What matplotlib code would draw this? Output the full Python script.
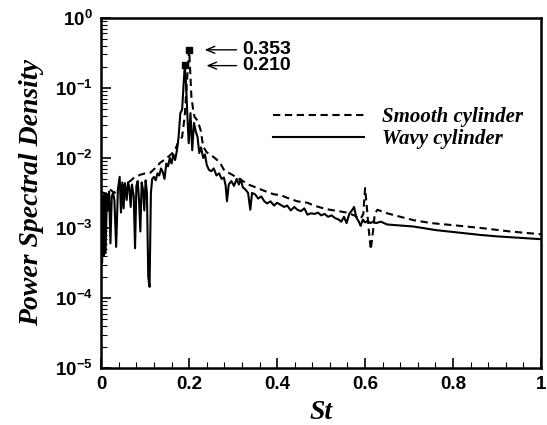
import numpy as np
import matplotlib
matplotlib.use('Agg')
import matplotlib.pyplot as plt
from matplotlib.ticker import MultipleLocator, LogLocator, FuncFormatter, NullFormatter

# ==================== data (log10 of PSD) ====================
smooth_st = [0.000, 0.010, 0.020, 0.030, 0.040, 0.050, 0.058, 0.066, 0.075, 0.089,
             0.100, 0.112, 0.122, 0.134, 0.145, 0.157, 0.167, 0.175, 0.184, 0.190,
             0.195, 0.200, 0.203, 0.205, 0.209, 0.212, 0.218, 0.222, 0.226, 0.232,
             0.240, 0.250, 0.262, 0.271, 0.280, 0.295, 0.317, 0.335, 0.355, 0.375,
             0.393, 0.408, 0.423, 0.446, 0.469, 0.484, 0.500, 0.520, 0.540, 0.558,
             0.575, 0.590, 0.596, 0.600, 0.604, 0.608, 0.613, 0.618, 0.622, 0.628,
             0.650, 0.680, 0.711, 0.750, 0.800, 0.863, 0.930, 1.000]
smooth_log = [-2.48, -2.52, -2.45, -2.50, -2.42, -2.40, -2.36, -2.33, -2.28, -2.24,
              -2.22, -2.21, -2.15, -2.07, -2.02, -1.96, -1.90, -1.78, -1.70, -1.40,
              -0.90, -0.452, -0.84, -1.12, -1.31, -1.41, -1.46, -1.52, -1.60, -1.84,
              -1.92, -1.96, -2.02, -2.08, -2.18, -2.23, -2.31, -2.38, -2.43, -2.48,
              -2.52, -2.53, -2.57, -2.62, -2.64, -2.68, -2.71, -2.74, -2.76, -2.78,
              -2.82, -2.87, -2.80, -2.43, -2.70, -3.00, -3.31, -3.05, -2.80, -2.74,
              -2.79, -2.84, -2.89, -2.93, -2.96, -3.00, -3.05, -3.09]

wavy_st = [0.000, 0.002, 0.004, 0.006, 0.008, 0.010, 0.013, 0.016, 0.018, 0.021,
           0.024, 0.027, 0.030, 0.034, 0.038, 0.042, 0.045, 0.048, 0.051, 0.054,
           0.058, 0.061, 0.064, 0.067, 0.070, 0.074, 0.077, 0.080, 0.083, 0.086,
           0.089, 0.092, 0.095, 0.098, 0.101, 0.104, 0.107, 0.110, 0.113, 0.116,
           0.120, 0.124, 0.128, 0.132, 0.136, 0.140, 0.144, 0.148, 0.152, 0.156,
           0.160, 0.164, 0.168, 0.172, 0.176, 0.180, 0.184, 0.187, 0.190, 0.193,
           0.196, 0.199, 0.203, 0.207, 0.211, 0.215, 0.219, 0.223, 0.227, 0.232,
           0.236, 0.240, 0.245, 0.250, 0.256, 0.262, 0.268, 0.274, 0.279, 0.283,
           0.286, 0.290, 0.296, 0.302, 0.308, 0.313, 0.317, 0.322, 0.328, 0.334,
           0.339, 0.343, 0.350, 0.357, 0.364, 0.371, 0.377, 0.385, 0.393, 0.400,
           0.408, 0.416, 0.423, 0.431, 0.439, 0.446, 0.454, 0.462, 0.469, 0.477,
           0.485, 0.493, 0.500, 0.508, 0.516, 0.524, 0.532, 0.540, 0.546, 0.552,
           0.558, 0.564, 0.570, 0.575, 0.580, 0.585, 0.590, 0.595, 0.600, 0.606,
           0.612, 0.618, 0.625, 0.636, 0.650, 0.670, 0.690, 0.711, 0.730, 0.760,
           0.790, 0.820, 0.863, 0.900, 0.950, 1.000]
wavy_log = [-2.50, -3.50, -2.55, -3.40, -2.50, -3.36, -2.52, -2.75, -2.48, -3.22,
            -2.55, -2.50, -2.60, -3.27, -2.45, -2.27, -2.78, -2.35, -2.72, -2.36,
            -2.60, -2.35, -2.42, -2.70, -2.38, -2.55, -3.29, -2.40, -2.33, -2.60,
            -3.05, -2.35, -2.45, -2.75, -2.32, -2.50, -3.70, -3.84, -2.50, -2.30,
            -2.27, -2.32, -2.22, -2.25, -2.15, -2.20, -2.30, -2.08, -2.12, -2.00,
            -2.08, -1.95, -2.03, -1.90, -1.70, -1.36, -1.31, -1.00, -0.68, -0.95,
            -1.40, -1.79, -1.36, -1.89, -1.50, -1.62, -1.70, -1.93, -1.85, -2.00,
            -1.95, -2.10, -2.17, -2.19, -2.15, -2.25, -2.22, -2.30, -2.28, -2.40,
            -2.62, -2.38, -2.33, -2.40, -2.30, -2.38, -2.30, -2.42, -2.45, -2.50,
            -2.74, -2.50, -2.52, -2.58, -2.55, -2.62, -2.65, -2.62, -2.68, -2.64,
            -2.67, -2.70, -2.68, -2.75, -2.70, -2.74, -2.76, -2.72, -2.81, -2.79,
            -2.80, -2.78, -2.82, -2.80, -2.84, -2.82, -2.86, -2.88, -2.91, -2.84,
            -2.93, -2.80, -2.75, -2.70, -2.85, -2.90, -2.97, -2.88, -2.92, -2.90,
            -2.93, -2.91, -2.93, -2.91, -2.95, -2.96, -2.97, -2.98, -3.00, -3.03,
            -3.05, -3.07, -3.10, -3.12, -3.14, -3.16]

peak_st = [0.200, 0.190]
peak_psd = [0.353, 0.210]
peak_text = ['0.353', '0.210']

# ==================== plot ====================
plt.rcParams['mathtext.fontset'] = 'custom'
plt.rcParams['mathtext.rm'] = 'Liberation Sans:bold'
plt.rcParams['mathtext.bf'] = 'Liberation Sans:bold'


def st_label(v, pos):
    if abs(v) < 1e-9:
        return '0'
    if abs(v - 1) < 1e-9:
        return '1'
    return f'{v:.1f}'


fig = plt.figure(figsize=(5.47, 4.25), dpi=100)
ax = fig.add_axes([0.185, 0.134, 0.804, 0.824])

ax.plot(smooth_st, 10 ** np.array(smooth_log), color='black', lw=1.5,
        linestyle=(0, (3.5, 2.2)), label='Smooth cylinder')
ax.plot(wavy_st, 10 ** np.array(wavy_log), color='black', lw=1.5,
        label='Wavy cylinder')
ax.plot(peak_st, peak_psd, 's', color='black', ms=5, zorder=5)

ax.set_yscale('log')
ax.set_xlim(0, 1)
ax.set_ylim(1e-5, 1)

ax.xaxis.set_major_locator(MultipleLocator(0.2))
ax.xaxis.set_minor_locator(MultipleLocator(0.04))
ax.xaxis.set_major_formatter(FuncFormatter(st_label))
ax.yaxis.set_major_locator(LogLocator(base=10, numticks=10))
ax.yaxis.set_minor_locator(LogLocator(base=10, subs=np.arange(2, 10), numticks=20))
ax.yaxis.set_minor_formatter(NullFormatter())
ax.yaxis.set_major_formatter(FuncFormatter(lambda v, p: r'$\mathbf{10^{%d}}$' % int(round(np.log10(v)))))

ax.tick_params(which='both', direction='in', top=False, right=False)
ax.tick_params(which='major', length=7, width=1.2, labelsize=13.5, pad=6)
ax.tick_params(which='minor', length=4, width=0.8)
for lab in ax.get_xticklabels():
    lab.set_fontfamily('Liberation Sans')
    lab.set_fontweight('bold')
for sp in ax.spines.values():
    sp.set_linewidth(1.8)

ax.set_xlabel('St', family='Liberation Serif', style='italic', weight='bold', fontsize=20, labelpad=5)
ax.set_ylabel('Power Spectral Density', family='Liberation Serif', style='italic',
              weight='bold', fontsize=20, labelpad=8)

# arrows pointing at the two peaks
for st, psd, txt, dy in zip(peak_st, peak_psd, peak_text, [0.0, 0.04]):
    ax.annotate('', xy=(0.229 + dy * 0.1, psd * 0.99), xytext=(0.314, psd * 0.99),
                arrowprops=dict(arrowstyle='->, head_length=0.6, head_width=0.25',
                                color='black', lw=1.0))
    ax.text(0.32, psd, txt, family='Liberation Sans', weight='bold', fontsize=14,
            ha='left', va='center')

leg = ax.legend(loc='upper left', bbox_to_anchor=(0.39, 0.745), frameon=False,
                handlelength=4.4, handletextpad=0.85, labelspacing=0.08,
                borderpad=0, borderaxespad=0,
                prop=dict(family='Liberation Serif', style='italic', weight='bold', size=15))

plt.savefig('out.png', dpi=100)
plt.close()
